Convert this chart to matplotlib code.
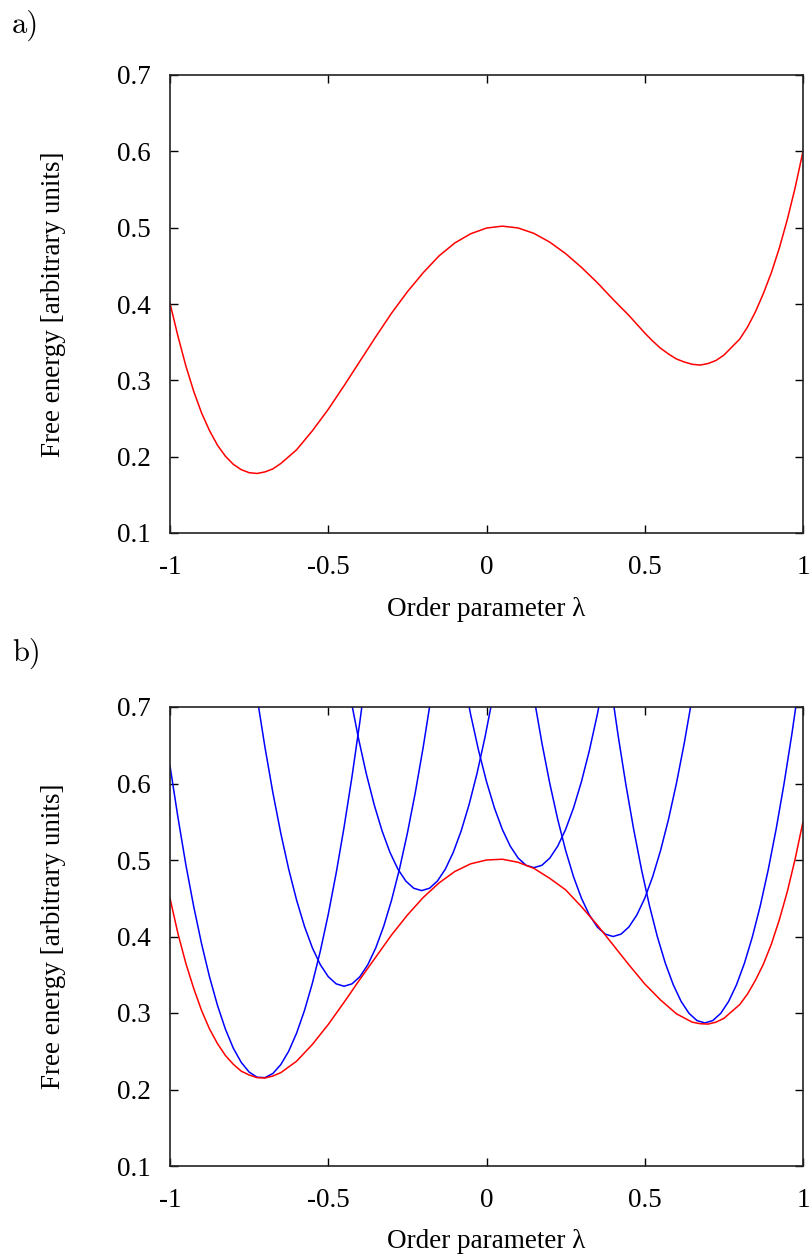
import matplotlib
matplotlib.use("Agg")
import matplotlib.pyplot as plt

# ---------------- data ----------------
# panel a: free energy profile
lam_a = [-1.0, -0.975, -0.95, -0.925, -0.9, -0.875, -0.85, -0.825, -0.8, -0.775,
         -0.75, -0.725, -0.7, -0.675, -0.65, -0.6, -0.55, -0.5, -0.45, -0.4,
         -0.35, -0.3, -0.25, -0.2, -0.15, -0.1, -0.05, 0.0, 0.05, 0.1,
         0.15, 0.2, 0.25, 0.3, 0.35, 0.4, 0.45, 0.5, 0.525, 0.55,
         0.575, 0.6, 0.625, 0.65, 0.675, 0.7, 0.725, 0.75, 0.8, 0.825,
         0.85, 0.875, 0.9, 0.925, 0.95, 0.975, 1.0]
free_a = [0.401, 0.358, 0.319, 0.2855, 0.257, 0.234, 0.215, 0.2006, 0.190, 0.183,
          0.179, 0.178, 0.180, 0.184, 0.191, 0.209, 0.234, 0.262, 0.293, 0.325,
          0.357, 0.388, 0.416, 0.441, 0.463, 0.480, 0.492, 0.4995, 0.502, 0.4996,
          0.4925, 0.481, 0.466, 0.448, 0.428, 0.406, 0.385, 0.362, 0.3515, 0.342,
          0.3345, 0.328, 0.324, 0.321, 0.320, 0.322, 0.326, 0.333, 0.354, 0.370,
          0.390, 0.414, 0.441, 0.473, 0.510, 0.552, 0.600]

# panel b: reconstructed free energy profile
lam_b = [-1.0, -0.975, -0.95, -0.925, -0.9, -0.875, -0.85, -0.825, -0.8, -0.775,
         -0.75, -0.725, -0.7, -0.675, -0.65, -0.6, -0.55, -0.5, -0.45, -0.4,
         -0.35, -0.3, -0.25, -0.2, -0.15, -0.1, -0.05, 0.0, 0.05, 0.1,
         0.15, 0.2, 0.25, 0.3, 0.35, 0.4, 0.45, 0.5, 0.55, 0.6,
         0.65, 0.675, 0.7, 0.725, 0.75, 0.8, 0.825, 0.85, 0.875, 0.9,
         0.925, 0.95, 0.975, 1.0]
free_b = [0.450, 0.404, 0.365, 0.332, 0.303, 0.279, 0.260, 0.2445, 0.233, 0.224,
          0.219, 0.2155, 0.215, 0.2176, 0.222, 0.237, 0.259, 0.285, 0.314, 0.344,
          0.373, 0.402, 0.428, 0.451, 0.470, 0.485, 0.495, 0.500, 0.501, 0.497,
          0.489, 0.476, 0.461, 0.439, 0.415, 0.389, 0.363, 0.338, 0.317, 0.299,
          0.288, 0.286, 0.2855, 0.288, 0.293, 0.311, 0.325, 0.343, 0.364, 0.390,
          0.4216, 0.458, 0.501, 0.550]

# panel b: umbrella (window) potentials
win1_x = [-1.0, -0.975, -0.95, -0.925, -0.9, -0.875, -0.85, -0.825, -0.8, -0.775,
          -0.75, -0.725, -0.7, -0.675, -0.65, -0.625, -0.6, -0.575, -0.55, -0.525,
          -0.5, -0.475, -0.45, -0.425, -0.4, -0.375]
win1_y = [0.623, 0.556, 0.494, 0.439, 0.390, 0.347, 0.310, 0.279, 0.254, 0.2355,
          0.2228, 0.2161, 0.2155, 0.2209, 0.2325, 0.250, 0.2737, 0.3034, 0.3392, 0.381,
          0.4289, 0.4828, 0.5429, 0.6089, 0.6811, 0.7593]

win2_x = [-0.75, -0.725, -0.7, -0.675, -0.65, -0.625, -0.6, -0.575, -0.55, -0.525,
          -0.5, -0.475, -0.45, -0.425, -0.4, -0.375, -0.35, -0.325, -0.3, -0.275,
          -0.25, -0.225, -0.2, -0.175, -0.15]
win2_y = [0.785, 0.713, 0.6475, 0.5881, 0.535, 0.4881, 0.4475, 0.4131, 0.385, 0.3631,
          0.3475, 0.3381, 0.335, 0.3381, 0.3475, 0.3631, 0.385, 0.4131, 0.4475, 0.4881,
          0.535, 0.5881, 0.6475, 0.713, 0.785]

win3_x = [-0.455, -0.43, -0.405, -0.38, -0.355, -0.33, -0.305, -0.28, -0.255, -0.23,
          -0.205, -0.18, -0.155, -0.13, -0.105, -0.08, -0.055, -0.03, -0.005, 0.02,
          0.045]
win3_y = [0.7725, 0.7131, 0.66, 0.6131, 0.5725, 0.5381, 0.51, 0.4881, 0.4725, 0.4631,
          0.46, 0.4631, 0.4725, 0.4881, 0.51, 0.5381, 0.5725, 0.6131, 0.66, 0.7131,
          0.7725]

win4_x = [-0.075, -0.05, -0.025, 0.0, 0.025, 0.05, 0.075, 0.1, 0.125, 0.15,
          0.175, 0.2, 0.225, 0.25, 0.275, 0.3, 0.325, 0.35, 0.375]
win4_y = [0.7431, 0.69, 0.6431, 0.6025, 0.5681, 0.54, 0.5181, 0.5025, 0.4931, 0.49,
          0.4931, 0.5025, 0.5181, 0.54, 0.5681, 0.6025, 0.6431, 0.69, 0.7431]

win5_x = [0.15, 0.175, 0.2, 0.225, 0.25, 0.275, 0.3, 0.325, 0.35, 0.375,
          0.4, 0.425, 0.45, 0.475, 0.5, 0.525, 0.55, 0.575, 0.6, 0.625, 0.65]
win5_y = [0.7125, 0.6531, 0.6, 0.5531, 0.5125, 0.4781, 0.45, 0.4281, 0.4125, 0.4031,
          0.40, 0.4031, 0.4125, 0.4281, 0.45, 0.4781, 0.5125, 0.5531, 0.6, 0.6531, 0.7125]

win6_x = [0.39, 0.415, 0.44, 0.465, 0.49, 0.515, 0.54, 0.565, 0.59, 0.615,
          0.64, 0.665, 0.69, 0.715, 0.74, 0.765, 0.79, 0.815, 0.84, 0.865,
          0.89, 0.915, 0.94, 0.965, 0.99, 1.015]
win6_y = [0.737, 0.6651, 0.5995, 0.5401, 0.487, 0.4401, 0.3995, 0.3651, 0.337, 0.3151,
          0.2995, 0.2901, 0.287, 0.2901, 0.2995, 0.3151, 0.337, 0.3651, 0.3995, 0.4401,
          0.487, 0.5401, 0.5995, 0.6651, 0.737, 0.8151]

xticks = [-1, -0.5, 0, 0.5, 1]
xtick_labels = ["-1", "-0.5", "0", "0.5", "1"]
yticks = [0.1, 0.2, 0.3, 0.4, 0.5, 0.6, 0.7]
ytick_labels = ["0.1", "0.2", "0.3", "0.4", "0.5", "0.6", "0.7"]

xlabel = "Order parameter λ"
ylabel = "Free energy [arbitrary units]"

# ---------------- figure ----------------
plt.rcParams["font.family"] = ["Liberation Serif", "DejaVu Serif"]
W, H = 811, 1259
fig = plt.figure(figsize=(W / 100, H / 100), dpi=100)
LEFT_PX, RIGHT_PX = 170, 803


def make_axes(top_px, bottom_px):
    ax = fig.add_axes([LEFT_PX / W, 1 - bottom_px / H,
                       (RIGHT_PX - LEFT_PX) / W, (bottom_px - top_px) / H])
    ax.set_xlim(-1, 1)
    ax.set_ylim(0.1, 0.7)
    ax.set_xticks(xticks)
    ax.set_xticklabels(xtick_labels)
    ax.set_yticks(yticks)
    ax.set_yticklabels(ytick_labels)
    ax.tick_params(direction="in", length=5.5, width=1.0, top=True, right=True,
                   labelsize=19.5, colors="black")
    ax.tick_params(axis="x", pad=15.5)
    ax.tick_params(axis="y", pad=14)
    for s in ax.spines.values():
        s.set_linewidth(1.2)
        s.set_color("#222222")
    ax.set_xlabel(xlabel, fontsize=19.5)
    ax.xaxis.label.set_va("center")
    ax.xaxis.set_label_coords(0.5, -76 / (bottom_px - top_px))
    ax.set_ylabel(ylabel, fontsize=19.5)
    ax.yaxis.label.set_va("center")
    ax.yaxis.set_label_coords(-(LEFT_PX - 54) / (RIGHT_PX - LEFT_PX), 0.5)
    return ax


ax1 = make_axes(75, 533)
ax1.plot(lam_a, free_a, color="#ff0000", lw=1.1)

ax2 = make_axes(707, 1166)
for wx, wy in [(win1_x, win1_y), (win2_x, win2_y), (win3_x, win3_y),
               (win4_x, win4_y), (win5_x, win5_y), (win6_x, win6_y)]:
    ax2.plot(wx, wy, color="#0000ff", lw=1.1)
ax2.plot(lam_b, free_b, color="#ff0000", lw=1.1)

fig.text(12 / W, 1 - 25 / H, "a)", fontsize=22, family="cmr10", va="center", ha="left")
fig.text(12 / W, 1 - 653 / H, "b)", fontsize=22, family="cmr10", va="center", ha="left")

fig.savefig("out.png", dpi=100)
